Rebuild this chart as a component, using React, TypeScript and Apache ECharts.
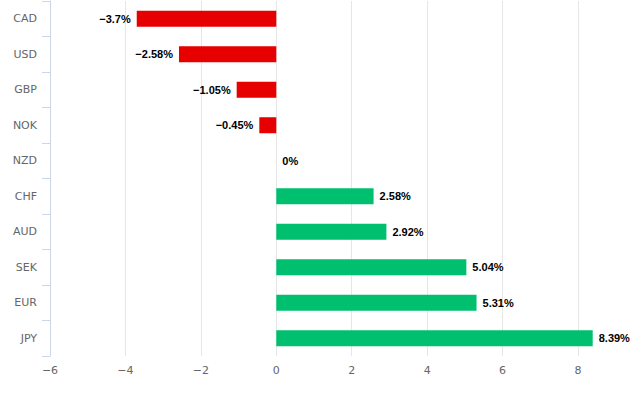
import React, { useEffect, useRef } from "react";
import * as echarts from "echarts";

const categories = ["CAD", "USD", "GBP", "NOK", "NZD", "CHF", "AUD", "SEK", "EUR", "JPY"];
const values = [-3.7, -2.58, -1.05, -0.45, 0, 2.58, 2.92, 5.04, 5.31, 8.39];
const xTicks = { min: -6, max: 8, interval: 2 };

const RED = "#e60000";
const GREEN = "#00bf6f";
const FONT = "DejaVu Sans";
const LABEL_FONT = "Liberation Sans";

const fmt = (v: number) => (v < 0 ? "\u2212" + Math.abs(v) : String(v));

export default function App() {
  const ref = useRef<HTMLDivElement>(null);
  useEffect(() => {
    if (!ref.current) return;
    const chart = echarts.init(ref.current, null, { renderer: "svg" });
    chart.setOption({
      animation: false,
      grid: { left: 50, right: 54, top: 1, bottom: 38, containLabel: false },
      xAxis: {
        type: "value",
        min: xTicks.min,
        max: xTicks.max,
        interval: xTicks.interval,
        axisLine: { show: false },
        axisTick: { show: false },
        splitLine: { lineStyle: { color: "#e6e6e6", width: 1 } },
        axisLabel: {
          color: "#666666",
          fontSize: 11,
          fontFamily: FONT,
          margin: 9,
          formatter: (v: number) => fmt(v),
        },
      },
      yAxis: {
        type: "category",
        data: categories,
        inverse: true,
        axisLine: { show: true, onZero: false, lineStyle: { color: "#ccd6eb", width: 1 } },
        axisTick: { show: true, length: 8, lineStyle: { color: "#ccd6eb" } },
        splitLine: { show: false },
        axisLabel: { color: "#666666", fontSize: 11, fontFamily: FONT, margin: 13 },
      },
      series: [
        {
          type: "bar",
          clip: false,
          barWidth: 16,
          data: values.map((v) => ({
            value: v,
            itemStyle: { color: v < 0 ? RED : GREEN },
            label: { position: v < 0 ? "left" : "right" },
          })),
          label: {
            show: true,
            distance: 6,
            color: "#000000",
            fontSize: 11,
            fontWeight: "bold",
            fontFamily: LABEL_FONT,
            formatter: (p: any) => fmt(p.value) + "%",
          },
        },
      ],
    });
    return () => chart.dispose();
  }, []);
  return (
    <div
      ref={ref}
      style={{ position: "fixed", left: 0, top: 0, width: 632, height: 394, background: "#ffffff" }}
    />
  );
}
